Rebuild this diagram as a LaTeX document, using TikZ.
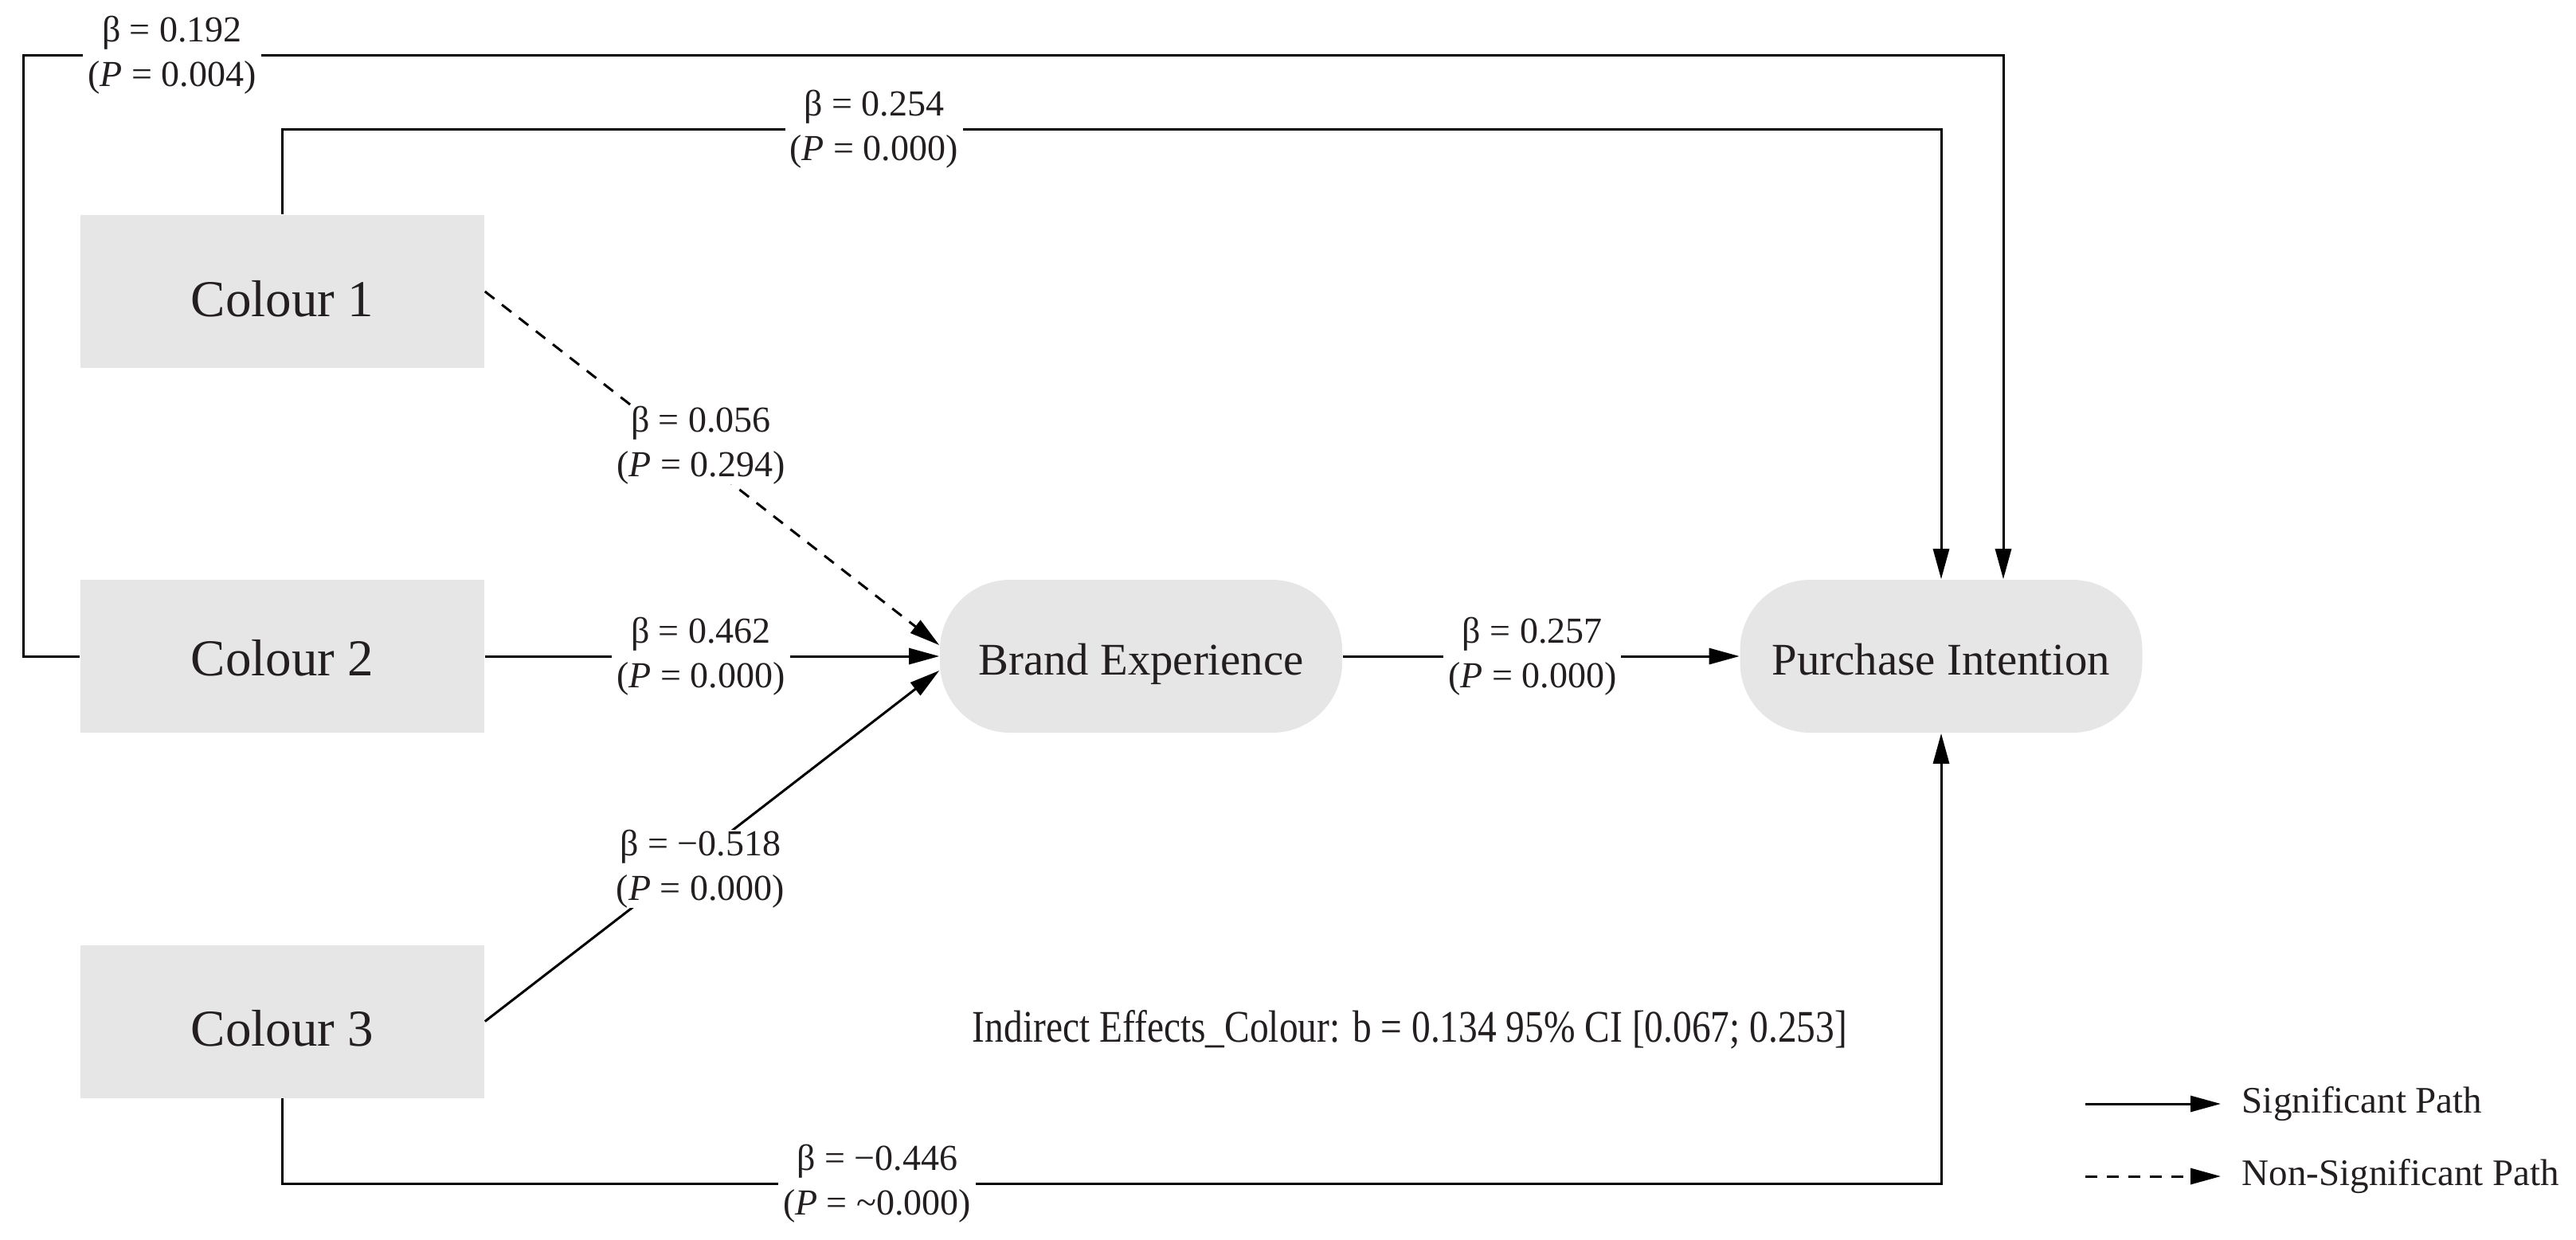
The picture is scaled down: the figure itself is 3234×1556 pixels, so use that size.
\documentclass[tikz,border=0pt]{standalone}
\usepackage{fontspec}
\setmainfont{Liberation Serif}
\newfontfamily\condfont{Liberation Serif}[FakeStretch=0.835]
\usetikzlibrary{arrows.meta}
\definecolor{boxgray}{RGB}{231,230,230}
\definecolor{txt}{RGB}{35,31,32}
\begin{document}
\begin{tikzpicture}[x=0.25pt,y=-0.25pt,
  conn/.style={line width=0.75pt, draw=black},
  arr/.style={conn, -{Triangle[length=9.5pt,width=5pt]}},
  dsh/.style={arr, dash pattern=on 3.75pt off 3pt},
  colbox/.style={rectangle, fill=boxgray, minimum width=126.75pt, minimum height=48pt, inner sep=0pt, text height=15.5pt, text depth=0pt, font=\fontsize{16.25}{19}\selectfont, text=txt},
  pill/.style={rectangle, rounded corners=22pt, fill=boxgray, minimum width=126.25pt, minimum height=48pt, inner sep=0pt, text height=11.5pt, text depth=0pt, font=\fontsize{14.2}{17}\selectfont, text=txt},
  lbl/.style={fill=white, inner xsep=1.5pt, inner ysep=0pt, align=center, font=\fontsize{11.5}{14}\selectfont, text=txt},
  legtxt/.style={anchor=base west, inner sep=0pt, font=\fontsize{11.75}{14}\selectfont, text=txt}]
\useasboundingbox (0,0) rectangle (3234,1556);
% nodes
\node[colbox] (c1) at (354.5,366) {Colour 1};
\node[colbox, text height=12pt] (c2) at (354.5,824) {Colour 2};
\node[colbox] (c3) at (354.5,1282.5) {Colour 3};
\node[pill] (be) at (1432.5,824) {Brand Experience};
\node[pill] (pi) at (2437,824) {Purchase Intention};
% routing coordinates
\coordinate (tl) at (29,69);
\coordinate (tr) at (2515,69);
\coordinate (ul) at (354.5,162);
\coordinate (ur) at (pi.north |- ul);
\coordinate (bl) at (354.5,1486);
\coordinate (br) at (pi.south |- bl);
% direct paths
\draw[arr] (c2.west) -- (c2.west -| tl) -- (tl) -- node[lbl,pos=0.0752]{β = 0.192\\(\textit{P} = 0.004)} (tr) -- (tr |- pi.north);
\draw[arr] (c1.north) -- (ul) -- node[lbl,pos=0.3566]{β = 0.254\\(\textit{P} = 0.000)} (ur) -- (pi.north);
\draw[arr] (c3.south) -- (bl) -- node[lbl,pos=0.3585]{β = −0.446\\(\textit{P} = \textasciitilde 0.000)} (br) -- (pi.south);
% mediated paths
\draw[dsh] (c1.east) -- node[lbl,pos=0.435,xshift=5.75pt]{β = 0.056\\(\textit{P} = 0.294)} ([yshift=3.5pt]be.west);
\draw[arr] (c2.east) -- node[lbl,pos=0.4755]{β = 0.462\\(\textit{P} = 0.000)} (be.west);
\draw[arr] (c3.east) -- node[lbl,pos=0.434,xshift=5.75pt]{β = −0.518\\(\textit{P} = 0.000)} ([yshift=-4.5pt]be.west);
\draw[arr] (be.east) -- node[lbl,pos=0.478]{β = 0.257\\(\textit{P} = 0.000)} (pi.west);
% indirect effect text
\node[anchor=base, inner sep=0pt, font=\condfont\fontsize{14.2}{17}\selectfont, text=txt] (ind) at (1770,1308) {Indirect Effects\_Colour: b = 0.134 95\% CI [0.067; 0.253]};
% legend
\coordinate (s1) at (2618,1386);
\coordinate (s2) at (2788,1386);
\coordinate (n1) at (2618,1477);
\coordinate (n2) at (2788,1477);
\node[legtxt] (lt1) at (2814,1397) {Significant Path};
\node[legtxt] (lt2) at (2814,1488) {Non-Significant Path};
\draw[arr] (s1) -- (s2);
\draw[dsh] (n1) -- (n2);
\end{tikzpicture}
\end{document}
